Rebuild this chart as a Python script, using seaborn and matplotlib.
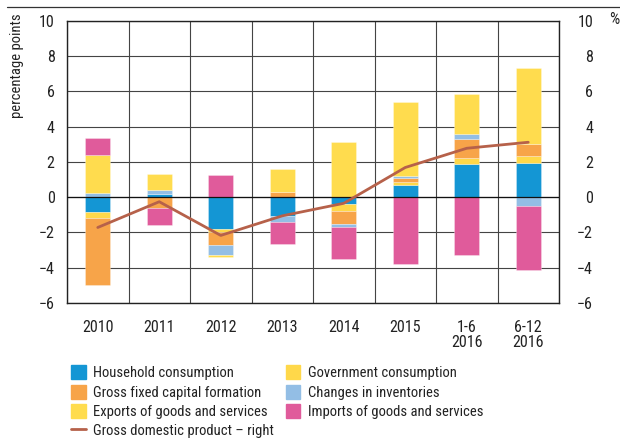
import numpy as np
import pandas as pd
import seaborn as sns
import matplotlib
matplotlib.use("Agg")
import matplotlib.pyplot as plt
from matplotlib.patches import Patch
from matplotlib.lines import Line2D

sns.set_style("white")
plt.rcParams['font.family'] = ['Roboto Condensed', 'Liberation Sans', 'DejaVu Sans']

categories = ["2010", "2011", "2012", "2013", "2014", "2015", "1-6\n2016", "6-12\n2016"]
household   = [-0.85, 0.15, -1.79, -1.06, -0.38, 0.70, 1.87, 1.94]
government  = [-0.34, 0.00, -0.19, 0.00, -0.43, 0.15, 0.32, 0.40]
gfcf        = [-3.81, -0.62, -0.72, 0.30, -0.70, 0.26, 1.08, 0.68]
inventories = [0.25, 0.28, -0.60, -0.36, -0.17, 0.08, 0.32, -0.53]
exports     = [2.11, 0.89, -0.09, 1.30, 3.13, 4.21, 2.26, 4.30]
imports     = [0.98, -0.94, 1.23, -1.26, -1.83, -3.79, -3.28, -3.58]
gdp         = [-1.72, -0.26, -2.17, -1.06, -0.35, 1.68, 2.77, 3.11]

series = [
    ("Household consumption", household, "#1496D4"),
    ("Government consumption", government, "#FFD84A"),
    ("Gross fixed capital formation", gfcf, "#F7A449"),
    ("Changes in inventories", inventories, "#93BEE5"),
    ("Exports of goods and services", exports, "#FFDC4E"),
    ("Imports of goods and services", imports, "#E05B9B"),
]
gdp_label = "Gross domestic product \u2013 right"
gdp_color = "#B6614A"
FS = 11.5

fig = plt.figure(figsize=(6.2, 4.41), dpi=100)
ax = fig.add_axes([67/620, 1-303/441, (559-67)/620, (303-20.7)/441])

x = np.arange(len(categories))
pos_bottom = np.zeros(len(categories))
neg_bottom = np.zeros(len(categories))
for name, vals, col in series:
    v = np.array(vals)
    bottoms = np.where(v >= 0, pos_bottom, neg_bottom)
    ax.bar(x, v, bottom=bottoms, width=0.4, color=col, edgecolor=(1, 1, 1, 0.5),
           linewidth=0.4, zorder=3)
    pos_bottom += np.where(v >= 0, v, 0)
    neg_bottom += np.where(v < 0, v, 0)

df = pd.DataFrame({"x": x, "gdp": gdp})
sns.lineplot(data=df, x="x", y="gdp", ax=ax, color=gdp_color, linewidth=2, zorder=4)

ax.set_xlim(-0.5, len(categories) - 0.5)
ax.set_ylim(-6, 10)
ax.set_yticks(np.arange(-6, 11, 2))
ax.set_yticklabels([str(t).replace("-", "\u2212") for t in range(-6, 11, 2)])
ax.set_xticks(x)
ax.set_xticklabels(categories, fontsize=FS, linespacing=1.0)
ax.tick_params(axis="both", length=0, labelsize=FS, colors="#222222")
ax.tick_params(axis="y", pad=9)
ax.tick_params(axis="x", pad=12)
ax.set_xlabel("")
ax.set_ylabel("")

# grid
for k in np.arange(-0.5, len(categories), 1.0):
    ax.axvline(k, color="#444444", linewidth=0.8, zorder=1)
for t in range(-6, 11, 2):
    ax.axhline(t, color="#444444", linewidth=0.8, zorder=1)
ax.axhline(0, color="#111111", linewidth=0.9, zorder=3.5)
for s in ax.spines.values():
    s.set_color("#222222")
    s.set_linewidth(1.0)

ax2 = ax.twinx()
ax2.set_ylim(-6, 10)
ax2.set_yticks(np.arange(-6, 11, 2))
ax2.set_yticklabels([str(t).replace("-", "\u2212") for t in range(-6, 11, 2)])
ax2.tick_params(axis="y", length=0, labelsize=FS, colors="#222222", pad=24.5)
for lbl in ax2.get_yticklabels():
    lbl.set_horizontalalignment("right")
for s in ax2.spines.values():
    s.set_visible(False)

fig.text(614/620, 1-20/441, "%", fontsize=FS, ha="center", va="center", color="#222222")
fig.text(17/620, 1-13/441, "percentage points", rotation=90, fontsize=10.5,
         ha="center", va="top", color="#222222")
fig.add_artist(Line2D([7/620, 1.0], [1-7/441, 1-7/441], color="#333333", linewidth=0.9))

handles = [
    Patch(color=series[0][2]), Patch(color=series[2][2]), Patch(color=series[4][2]),
    Line2D([0], [0], color=gdp_color, linewidth=2),
    Patch(color=series[1][2]), Patch(color=series[3][2]), Patch(color=series[5][2]),
]
labels = [series[0][0], series[2][0], series[4][0], gdp_label,
          series[1][0], series[3][0], series[5][0]]
fig.legend(handles, labels, ncol=2, loc="upper left", bbox_to_anchor=(64/620, 1-358/441),
           frameon=False, fontsize=10.5, handlelength=1.0, handleheight=1.1,
           handletextpad=0.5, labelspacing=0.3, columnspacing=0.8, borderpad=0,
           labelcolor="#222222")

fig.savefig("out.png", dpi=100)
